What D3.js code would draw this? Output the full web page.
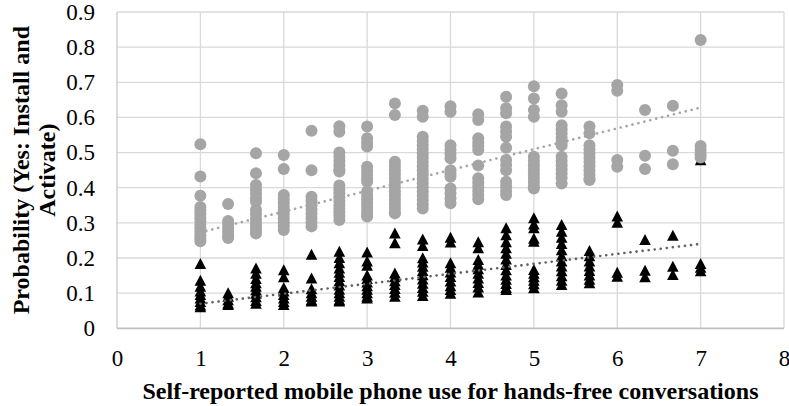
<!DOCTYPE html>
<html>
<head>
<meta charset="utf-8">
<script src="https://cdn.jsdelivr.net/npm/d3@7"></script>
<style>
  html, body { margin: 0; padding: 0; background: #fff; }
  svg { display: block; }
</style>
</head>
<body>
<svg id="chart" width="789" height="406"></svg>
<script>
// ---- data ----
const xLevels = [1, 1.333, 1.667, 2, 2.333, 2.667, 3, 3.333, 3.667, 4, 4.333, 4.667, 5, 5.333, 5.667, 6, 6.333, 6.667, 7];

// grey circles: "Yes: Install and Activate" probabilities at each x level
const circleValues = [
  [0.524,0.432,0.377,0.345,0.335,0.325,0.315,0.305,0.295,0.285,0.275,0.265,0.255,0.248],
  [0.354,0.305,0.295,0.285,0.275,0.265,0.257],
  [0.498,0.441,0.408,0.395,0.383,0.37,0.36,0.337,0.325,0.312,0.30,0.29,0.28,0.27],
  [0.493,0.453,0.379,0.368,0.357,0.346,0.335,0.324,0.313,0.302,0.291,0.28],
  [0.562,0.450,0.374,0.362,0.35,0.338,0.326,0.314,0.302,0.29],
  [0.575,0.559,0.50,0.488,0.476,0.464,0.452,0.446,0.406,0.395,0.384,0.373,0.362,0.351,0.34,0.33,0.32,0.308],
  [0.574,0.541,0.529,0.517,0.46,0.448,0.437,0.426,0.417,0.389,0.378,0.367,0.356,0.345,0.334,0.324,0.318],
  [0.64,0.607,0.474,0.462,0.45,0.438,0.426,0.414,0.402,0.39,0.378,0.366,0.354,0.342,0.33,0.327],
  [0.619,0.602,0.545,0.533,0.521,0.509,0.497,0.485,0.473,0.461,0.449,0.437,0.425,0.413,0.401,0.389,0.377,0.365,0.353,0.341],
  [0.632,0.616,0.521,0.508,0.496,0.484,0.45,0.44,0.431,0.398,0.384,0.37,0.356],
  [0.609,0.593,0.541,0.529,0.518,0.507,0.463,0.427,0.415,0.403,0.391,0.379,0.367],
  [0.659,0.626,0.612,0.574,0.560,0.545,0.514,0.479,0.465,0.45,0.417,0.404,0.391,0.379],
  [0.689,0.654,0.621,0.602,0.488,0.476,0.464,0.452,0.44,0.428,0.416,0.404,0.398],
  [0.668,0.635,0.616,0.578,0.566,0.554,0.542,0.530,0.521,0.488,0.476,0.464,0.452,0.44,0.428,0.412],
  [0.574,0.555,0.521,0.509,0.497,0.485,0.473,0.461,0.449,0.437,0.425,0.422],
  [0.692,0.676,0.479,0.46],
  [0.621,0.491,0.453],
  [0.633,0.505,0.467],
  [0.820,0.519,0.507,0.495,0.486]
];

// black triangles
const triangleValues = [
  [0.183,0.135,0.118,0.105,0.095,0.085,0.075,0.065,0.06],
  [0.100,0.090,0.08,0.07,0.066],
  [0.17,0.155,0.14,0.128,0.118,0.108,0.098,0.088,0.078,0.07],
  [0.165,0.145,0.115,0.105,0.095,0.085,0.075,0.066],
  [0.209,0.142,0.111,0.10,0.09,0.08,0.076],
  [0.218,0.2,0.185,0.17,0.158,0.146,0.134,0.122,0.11,0.1,0.09,0.08,0.076],
  [0.216,0.19,0.178,0.15,0.14,0.13,0.12,0.11,0.1,0.09,0.085],
  [0.27,0.242,0.156,0.145,0.134,0.123,0.112,0.101,0.09],
  [0.253,0.234,0.199,0.187,0.175,0.163,0.151,0.139,0.127,0.115,0.104,0.092],
  [0.258,0.244,0.185,0.172,0.159,0.146,0.133,0.12,0.109,0.098],
  [0.245,0.228,0.194,0.181,0.168,0.155,0.142,0.129,0.116,0.102],
  [0.285,0.265,0.245,0.228,0.212,0.196,0.18,0.165,0.15,0.138,0.126,0.115,0.109],
  [0.313,0.295,0.285,0.255,0.246,0.166,0.155,0.145,0.135,0.125,0.114],
  [0.294,0.275,0.258,0.24,0.222,0.205,0.19,0.176,0.162,0.148,0.135,0.123],
  [0.22,0.205,0.19,0.176,0.163,0.15,0.138,0.128],
  [0.318,0.300,0.158,0.147],
  [0.251,0.164,0.145],
  [0.263,0.175,0.152],
  [0.478,0.183,0.172,0.162]
];

// linear trend lines (end points)
const circleTrend = [[1, 0.273], [7, 0.628]];
const triangleTrend = [[1, 0.070], [7, 0.240]];

const xTicks = [0, 1, 2, 3, 4, 5, 6, 7, 8];
const yTicks = [0, 0.1, 0.2, 0.3, 0.4, 0.5, 0.6, 0.7, 0.8, 0.9];
const xTitle = "Self-reported mobile phone use for hands-free conversations";
const yTitleLines = ["Probability (Yes: Install and", "Activate)"];

// ---- drawing ----
(function () {
const svg = d3.select("#chart");
const pLeft = 117, pRight = 784, pTop = 12, pBottom = 328.3;
const x = d3.scaleLinear().domain([0, 8]).range([pLeft, pRight]);
const y = d3.scaleLinear().domain([0, 0.9]).range([pBottom, pTop]);
const serif = "'Liberation Serif', 'Times New Roman', serif";

// grid lines
const grid = svg.append("g");
grid.selectAll("line.h").data(yTicks.filter(d => d > 0)).join("line")
  .attr("class", "h")
  .attr("x1", pLeft).attr("x2", pRight)
  .attr("y1", d => y(d)).attr("y2", d => y(d))
  .attr("stroke", "#d9d9d9").attr("stroke-width", 1.3);
grid.selectAll("line.v").data(xTicks).join("line")
  .attr("class", "v")
  .attr("x1", d => x(d)).attr("x2", d => x(d))
  .attr("y1", pTop).attr("y2", pBottom)
  .attr("stroke", d => d === 0 ? "#c8c8c8" : "#d9d9d9").attr("stroke-width", 1.3);
// x axis line
svg.append("line")
  .attr("x1", pLeft).attr("x2", pRight)
  .attr("y1", y(0)).attr("y2", y(0))
  .attr("stroke", "#bfbfbf").attr("stroke-width", 1.8);

// axes (labels only)
const yAxis = svg.append("g").attr("transform", `translate(${pLeft},0)`)
  .call(d3.axisLeft(y).tickValues(yTicks).tickSize(0).tickPadding(22)
    .tickFormat(d => d === 0 ? "0" : d3.format(".1f")(d)));
yAxis.select(".domain").remove();
yAxis.selectAll("text").attr("font-family", serif).attr("font-size", 23).attr("fill", "#000");

const xAxis = svg.append("g").attr("transform", `translate(0,${pBottom})`)
  .call(d3.axisBottom(x).tickValues(xTicks).tickSize(0).tickPadding(21).tickFormat(d3.format("d")));
xAxis.select(".domain").remove();
xAxis.selectAll("text").attr("font-family", serif).attr("font-size", 23).attr("fill", "#000");

// flatten points
const triPts = [];
triangleValues.forEach((col, i) => col.forEach(v => triPts.push([xLevels[i], v])));
const circPts = [];
circleValues.forEach((col, i) => col.forEach(v => circPts.push([xLevels[i], v])));

// triangles
svg.append("g").selectAll("path").data(triPts).join("path")
  .attr("transform", d => `translate(${x(d[0])},${y(d[1])})`)
  .attr("d", "M0,-6L5.8,5L-5.8,5Z")
  .attr("fill", "#000");

// circles
svg.append("g").selectAll("circle").data(circPts).join("circle")
  .attr("cx", d => x(d[0])).attr("cy", d => y(d[1])).attr("r", 6)
  .attr("fill", "#a5a5a5");

// trend lines
const line = d3.line().x(d => x(d[0])).y(d => y(d[1]));
svg.append("path").datum(circleTrend).attr("d", line)
  .attr("fill", "none").attr("stroke", "#a5a5a5").attr("stroke-width", 2.6)
  .attr("stroke-linecap", "round").attr("stroke-dasharray", "0.1,6");
svg.append("path").datum(triangleTrend).attr("d", line)
  .attr("fill", "none").attr("stroke", "#636363").attr("stroke-width", 2.6)
  .attr("stroke-linecap", "round").attr("stroke-dasharray", "0.1,6");

// axis titles
svg.append("text")
  .attr("x", (pLeft + pRight) / 2).attr("y", 399)
  .attr("text-anchor", "middle")
  .attr("font-family", serif).attr("font-weight", "bold").attr("font-size", 24)
  .text(xTitle);

const yt = svg.append("text")
  .attr("transform", `translate(29,${(pTop + pBottom) / 2}) rotate(-90)`)
  .attr("text-anchor", "middle")
  .attr("font-family", serif).attr("font-weight", "bold").attr("font-size", 24);
yTitleLines.forEach((t, i) => {
  yt.append("tspan").attr("x", 0).attr("dy", i === 0 ? 0 : 25.5).text(t);
});
})();
</script>
</body>
</html>
